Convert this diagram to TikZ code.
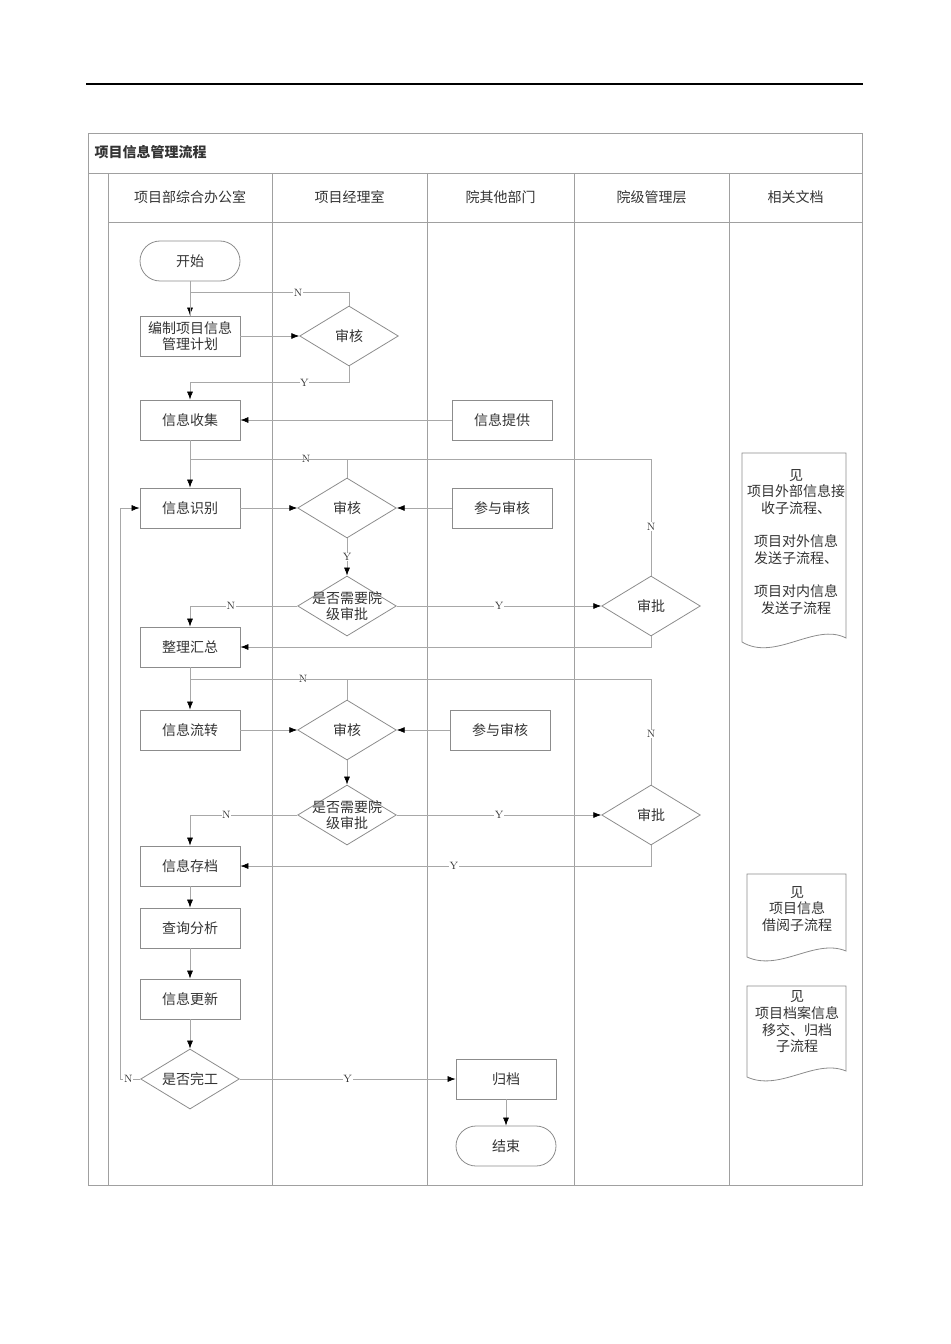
\documentclass[tikz,border=0pt]{standalone}
\usepackage{fontspec}
\newfontfamily\cjkfont{Noto Sans CJK SC}
\usetikzlibrary{shapes.geometric,arrows.meta}
\definecolor{txtgray}{HTML}{333333}
\definecolor{lanegray}{HTML}{A0A0A0}
\definecolor{shapegray}{HTML}{8C8C8C}
\definecolor{linegray}{HTML}{A8A8A8}

\begin{document}
\begin{tikzpicture}[
	x=0.75pt,y=-0.75pt,
	every node/.style={font=\cjkfont\fontsize{10.5}{12.5}\selectfont,text=txtgray},
	lane/.style={draw=lanegray,line width=0.7pt},
	box/.style={rectangle,draw=shapegray,line width=0.6pt,minimum width=75pt,minimum height=30pt,align=center},
	term/.style={box,rounded corners=15pt},
	dec/.style={diamond,draw=shapegray,line width=0.6pt,minimum width=74pt,minimum height=45pt,inner sep=0pt,label={[align=center]center:#1}},
	docline/.style={draw=shapegray,line width=0.6pt},
	doctext/.style={align=center},
	conn/.style={>={Latex[color=black,length=6pt,width=4.5pt]},draw=linegray,line width=0.5pt},
	yn/.style={font=\rmfamily\fontsize{8}{8}\selectfont,fill=white,inner sep=0.5pt}
]
	\useasboundingbox (0,0) rectangle (950,1344);

	% page rule and lanes
	\draw[line width=0.9pt] (86,84) -- (863,84);
	\draw[lane] (88,133) rectangle (862,1185);
	\draw[lane] (88,173) -- (862,173);
	\draw[lane] (108,222) -- (862,222);
	\draw[lane] (108,173) -- (108,1185);
	\draw[lane] (272,173) -- (272,1185);
	\draw[lane] (427,173) -- (427,1185);
	\draw[lane] (574,173) -- (574,1185);
	\draw[lane] (729,173) -- (729,1185);

	\node[anchor=west,font=\cjkfont\bfseries\fontsize{10.5}{12.5}\selectfont] (title) at (90,152) {项目信息管理流程};
	\node (h1) at (190,197) {项目部综合办公室};
	\node (h2) at (349.5,197) {项目经理室};
	\node (h3) at (500.5,197) {院其他部门};
	\node (h4) at (651.5,197) {院级管理层};
	\node (h5) at (795.5,197) {相关文档};

	% steps
	\node[term] (start) at (190,261) {开始};
	\node[box] (plan) at (190,336) {编制项目信息\\管理计划};
	\node[dec={审核}] (chk1) at (349,336) {};
	\node[box] (collect) at (190,420) {信息收集};
	\node[box] (supply) at (502,420) {信息提供};
	\node[box] (ident) at (190,508) {信息识别};
	\node[dec={审核}] (chk2) at (347,508) {};
	\node[box] (join1) at (502,508) {参与审核};
	\node[dec={是否需要院\\级审批}] (ask1) at (347,606) {};
	\node[dec={审批}] (appr1) at (651,606) {};
	\node[box] (sum) at (190,647) {整理汇总};
	\node[box] (pass) at (190,730) {信息流转};
	\node[dec={审核}] (chk3) at (347,730) {};
	\node[box] (join2) at (500,730) {参与审核};
	\node[dec={是否需要院\\级审批}] (ask2) at (347,815) {};
	\node[dec={审批}] (appr2) at (651,815) {};
	\node[box] (store) at (190,866) {信息存档};
	\node[box] (query) at (190,928) {查询分析};
	\node[box] (update) at (190,999) {信息更新};
	\node[dec={是否完工}] (done) at (190,1079) {};
	\node[box] (arch) at (506,1079) {归档};
	\node[term] (end) at (506,1146) {结束};

	\coordinate (top1) at (190,459);
	\coordinate (top2) at (190,679);

	% documents
	\draw[docline] (742,453) -- (846,453) -- (846,638) .. controls (815,622) and (775,662) .. (742,642) -- cycle;
	\node[doctext] (doc1) at (796,542) {见\\项目外部信息接\\收子流程、\\[12.5pt]项目对外信息\\发送子流程、\\[12.5pt]项目对内信息\\发送子流程};
	\draw[docline] (747,874) -- (846,874) -- (846,951) .. controls (815,938) and (780,972) .. (747,957) -- cycle;
	\node[doctext] (doc2) at (797,909) {见\\项目信息\\借阅子流程};
	\draw[docline] (747,986) -- (846,986) -- (846,1071) .. controls (815,1058) and (780,1092) .. (747,1077) -- cycle;
	\node[doctext] (doc3) at (797,1022) {见\\项目档案信息\\移交、归档\\子流程};

	% connectors
	\draw[conn,->] (start) -- (plan);
	\draw[conn,->] (plan) -- (chk1);
	\draw[conn] (chk1.north) -- ++(0,-13) -| node[yn,pos=0.16] {N} (plan.north);
	\draw[conn,->] (chk1.south) -- ++(0,16) -| node[yn,pos=0.14] {Y} (collect.north);
	\draw[conn,->] (supply) -- (collect);
	\draw[conn,->] (collect) -- (ident);
	\draw[conn] (chk2.north) |- node[yn,pos=0.63] {N} (top1);
	\draw[conn] (appr1.north) |- node[yn,pos=0.21] {N} (top1);
	\draw[conn,->] (ident) -- (chk2);
	\draw[conn,->] (join1) -- (chk2);
	\draw[conn,->] (chk2) -- node[yn] {Y} (ask1);
	\draw[conn,->] (ask1.west) -| node[yn,pos=0.31] {N} (sum.north);
	\draw[conn,->] (ask1) -- node[yn] {Y} (appr1);
	\draw[conn,->] (appr1.south) |- (sum.east);

	\draw[conn,->] (sum) -- (pass);
	\draw[conn] (chk3.north) |- node[yn,pos=0.64] {N} (top2);
	\draw[conn] (appr2.north) |- node[yn,pos=0.24] {N} (top2);
	\draw[conn,->] (pass) -- (chk3);
	\draw[conn,->] (join2) -- (chk3);
	\draw[conn,->] (chk3) -- (ask2);
	\draw[conn,->] (ask2.west) -| node[yn,pos=0.33] {N} (store.north);
	\draw[conn,->] (ask2) -- node[yn] {Y} (appr2);
	\draw[conn,->] (appr2.south) |- node[yn,pos=0.74] {Y} (store.east);

	\draw[conn,->] (store) -- (query);
	\draw[conn,->] (query) -- (update);
	\draw[conn,->] (update) -- (done);
	\draw[conn,->] (done.west) -- node[yn,pos=0.6] {N} ++(-20,0) |- (ident.west);
	\draw[conn,->] (done) -- node[yn] {Y} (arch);
	\draw[conn,->] (arch) -- (end);

\end{tikzpicture}
\end{document}
